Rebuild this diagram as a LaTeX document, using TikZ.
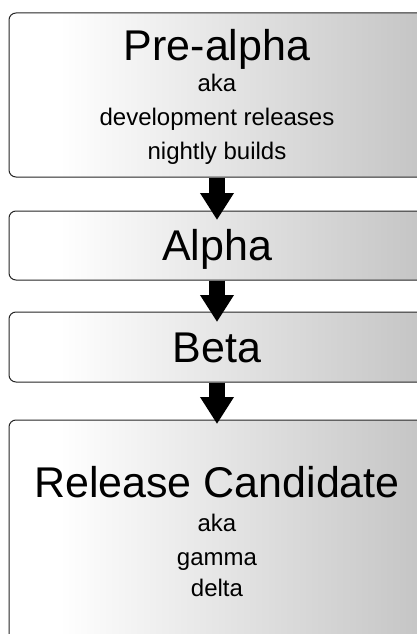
\documentclass[tikz,border=0pt]{standalone}
\usepackage{fontspec}
\setmainfont{Liberation Sans}
\usetikzlibrary{arrows.meta}

\definecolor{boxgray}{gray}{0.77}
\pgfdeclarehorizontalshading{stageshade}{100bp}{color(0bp)=(white); color(31bp)=(white); color(75bp)=(boxgray); color(100bp)=(boxgray)}

\tikzset{
    stage/.style={draw=black!85, line width=1pt, rounded corners=7pt,
        minimum width=416pt, inner sep=0pt, shade, shading=stageshade},
    stagetitle/.style={anchor=base, inner sep=0pt, font=\fontsize{43}{43}\selectfont},
    stagesub/.style={anchor=base, inner sep=0pt, font=\fontsize{24}{28}\selectfont},
    stagearrow/.style={line width=16pt, -{Triangle[width=32pt,length=27pt]}}
}

\begin{document}
\begin{tikzpicture}[x=1pt,y=-1pt]

    \useasboundingbox (0,0) rectangle (417,634);
    \clip (0,0) rectangle (417,634);

    %the four stages, cut off at the right edge
    \node[stage, minimum height=164pt] (prealpha) at (217,95) {};
    \node[stage, minimum height=69pt] (alpha) at (217,245.5) {};
    \node[stage, minimum height=70pt] (beta) at (217,347) {};
    \node[stage, minimum height=222pt] (rc) at (217,531) {};

    %arrows between stages (tips run into the next box)
    \draw[stagearrow] (prealpha.south) -- ([yshift=-9.5pt]alpha.north);
    \draw[stagearrow] (alpha.south) -- ([yshift=-10.5pt]beta.north);
    \draw[stagearrow] (beta.south) -- ([yshift=-4.5pt]rc.north);

    %titles
    \node[stagetitle] (prealpha-title) at (217,60) {Pre-alpha};
    \node[stagetitle] (alpha-title) at (217,260) {Alpha};
    \node[stagetitle] (beta-title) at (217,362) {Beta};
    \node[stagetitle] (rc-title) at (217,497) {Release Candidate};

    %other names
    \foreach \txt/\yy [count=\i] in {aka/92, development releases/125, nightly builds/159}
        \node[stagesub] (prealpha-sub\i) at (217,\yy) {\txt};
    \foreach \txt/\yy [count=\i] in {aka/531, gamma/565, delta/596}
        \node[stagesub] (rc-sub\i) at (217,\yy) {\txt};

\end{tikzpicture}
\end{document}
